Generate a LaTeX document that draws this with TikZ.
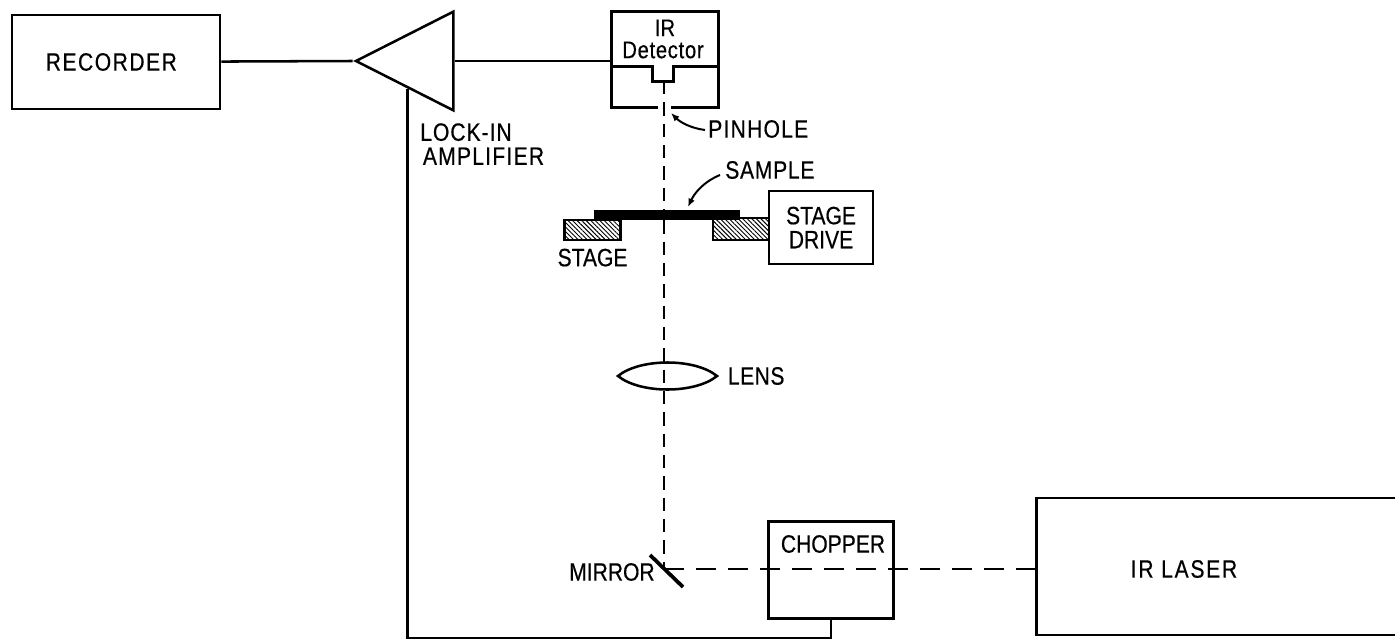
\documentclass[tikz,border=0pt]{standalone}
\usepackage{fontspec}
\setmainfont[FakeStretch=0.84,FakeBold=0.5]{Liberation Sans}
\usetikzlibrary{arrows.meta,positioning,calc,shapes.geometric,patterns.meta}
\newcommand{\spaced}[1]{\addfontfeature{LetterSpace=#1}}
\tikzset{
  blockbox/.style={
    draw=black,
    line width=1.9pt,
    inner sep=0pt,
    align=center,
    font=\fontsize{18.8}{18}\selectfont
  },
  tag/.style={
    inner sep=0pt,
    align=left,
    font=\fontsize{18.8}{18}\selectfont
  },
  wire/.style={
    line width=1.9pt,
    draw=black
  },
  beam/.style={
    line width=1.7pt,
    draw=black,
    dash pattern=on 10pt off 6pt
  },
  beamlong/.style={
    line width=1.7pt,
    draw=black,
    dash pattern=on 15pt off 9pt
  },
  pointer/.style={
    -{Latex[length=2.2mm,width=1.8mm]},
    line width=1.5pt,
    draw=black
  },
  stageblock/.style={
    draw=black,
    line width=2.2pt,
    inner sep=0pt,
    pattern={Lines[angle=-45,distance=2.4pt,line width=0.7pt]}
  }
}
\begin{document}
\begin{tikzpicture}[x=0.75pt,y=-0.75pt]
\useasboundingbox (0,0) rectangle (1395,639);
% main blocks
\node[blockbox, minimum width=156pt, minimum height=70.5pt] (recorder) at (116,62) {\hspace*{-7pt}\spaced{6}RECORDER};
\node[isosceles triangle, isosceles triangle stretches, shape border rotate=180, draw=black, line width=1.9pt, inner sep=0pt, minimum width=74pt, minimum height=73pt] (amp) at (423,61) {};
\node[inner sep=0pt, minimum width=79.5pt, minimum height=40.5pt, align=center, font=\fontsize{18}{16.5}\selectfont] (detector) at (665,39) {IR\\\hspace*{-3pt}\spaced{3}Detector};
\node[blockbox, minimum width=94pt, minimum height=73pt, anchor=north] (chopper) at (831,520) {};
\node[blockbox, minimum width=272pt, minimum height=103pt, anchor=west] (laser) at (1035,566.5) {};
\node[blockbox, minimum width=78pt, minimum height=55pt] (drive) at (821,227.5) {STAGE\\DRIVE};
% detector housing
\draw[wire] (detector.south west) -- (detector.north west) -- (detector.north east) -- (detector.south east);
\draw[wire] (detector.south west) -- ++(41,0) -- ++(0,15) -- ++(21,0) -- ++(0,-15) -- (detector.south east);
\draw[wire] (detector.south west) -- ++(0,41) -- ++(46,0);
\draw[wire] (detector.south east) -- ++(0,41) -- ++(-47,0);
% stage and sample
\node[stageblock, minimum width=42pt, minimum height=15pt] (stageleft) at (592.5,230) {};
\node[stageblock, minimum width=42pt, minimum height=16.5pt] (stageright) at (741,229) {};
\node[fill=black, inner sep=0pt, minimum width=109.5pt, minimum height=7.5pt] (sample) at (667,215) {};
% optics
\coordinate (pinhole) at (664,81);
\coordinate (mirrorpt) at (664,569);
\coordinate (mirrortop) at (650,555);
\coordinate (mirrorbot) at (683,587);
\coordinate (lensleft) at (618,376);
\coordinate (lensright) at (717,376);
\draw[wire] (lensleft) .. controls (640,358) and (695,358) .. (lensright) .. controls (695,394) and (640,394) .. cycle;
\draw[line width=2.8pt] (mirrortop) -- (mirrorbot);
\draw[beam] (pinhole) -- (pinhole |- sample.north);
\draw[beam] (pinhole |- sample.south) -- (mirrorpt);
\draw[beamlong] (mirrorpt) -- (laser.west |- mirrorpt);
% wires
\draw[wire] (recorder) -- (amp.apex);
\draw[wire] (amp.lower side) -- (amp.lower side -| detector.west);
\coordinate (ampin) at ($(amp.apex)!0.54!(amp.left corner)$);
\draw[wire] (chopper.south) -- ++(0,18) -| (ampin);
% labels
\node[tag, anchor=north west] (lockin) at (420,123) {\spaced{4}LOCK-IN\\\hspace*{2pt}\spaced{5}AMPLIFIER};
\node[tag, anchor=west] (pinholelabel) at (708,129) {\spaced{5}PINHOLE};
\node[tag, anchor=west] (samplelabel) at (725,170) {\spaced{3}SAMPLE};
\node[tag, below=6pt of stageleft.south, anchor=north] (stagelabel) {STAGE};
\node[tag, right=8pt of lensright] (lenslabel) {\spaced{2}LENS};
\node[tag, anchor=west] (mirrorlabel) at (569,572) {MIRROR};
\node[tag] (chopperlabel) at (833,544) {CHOPPER};
\node[tag] (laserlabel) at (1184,569) {\spaced{7}IR LASER};
\draw[pointer] ([shift={(-3,1)}]pinholelabel.west) .. controls (690,128) and (680,122) .. (671,113);
\draw[pointer] ([shift={(-5,5)}]samplelabel.west) .. controls (705,181) and (695,192) .. (688,207);
\end{tikzpicture}
\end{document}
